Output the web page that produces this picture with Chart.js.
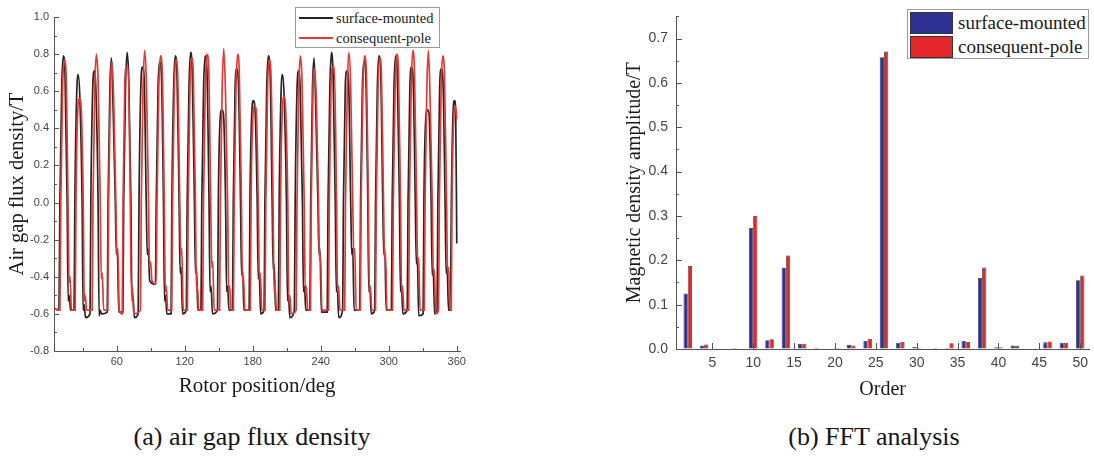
<!DOCTYPE html>
<html>
<head>
<meta charset="utf-8">
<script src="https://cdn.jsdelivr.net/npm/chart.js@4.4.1/dist/chart.umd.min.js"></script>
<style>
  html, body { margin: 0; padding: 0; background: #fff; }
  body { width: 1094px; height: 462px; position: relative; overflow: hidden; font-family: "Liberation Serif", serif; color: #1a1a1a; }
  .abs { position: absolute; }
  .cap { position: absolute; font-family: "Liberation Serif", serif; font-size: 26px; line-height: 30px; text-align: center; color: #151515; }
  .lg { position: absolute; border: 1px solid #9a9a9a; background: #fff; box-sizing: border-box; }
  .lg .row { position: absolute; left: 0; white-space: nowrap; font-family: "Liberation Serif", serif; color: #1a1a1a; }
</style>
</head>
<body>
<div class="abs" style="left:0;top:0;width:470px;height:400px"><canvas id="flux" width="470" height="400"></canvas></div>
<div class="abs" style="left:540px;top:0;width:554px;height:410px"><canvas id="fft" width="554" height="410"></canvas></div>

<div class="lg" style="left:295px;top:7px;width:145px;height:41px">
  <div class="abs" style="left:3px;top:9px;width:34px;height:2px;background:#262626"></div>
  <div class="row" style="left:40px;top:1px;font-size:14.5px;line-height:18px">surface-mounted</div>
  <div class="abs" style="left:3px;top:29px;width:34px;height:2px;background:#e53935"></div>
  <div class="row" style="left:40px;top:21px;font-size:14.5px;line-height:18px">consequent-pole</div>
</div>

<div class="lg" style="left:907px;top:9px;width:182px;height:50px">
  <div class="abs" style="left:2px;top:2px;width:43px;height:22px;background:#2e3192;border:1px solid #333;box-sizing:border-box"></div>
  <div class="row" style="left:50px;top:1px;font-size:19px;line-height:24px">surface-mounted</div>
  <div class="abs" style="left:2px;top:26px;width:43px;height:22px;background:#e5262a;border:1px solid #333;box-sizing:border-box"></div>
  <div class="row" style="left:50px;top:25px;font-size:19px;line-height:24px">consequent-pole</div>
</div>

<div class="cap" style="left:52px;top:422px;width:400px">(a) air gap flux density</div>
<div class="cap" style="left:674px;top:422px;width:400px">(b) FFT analysis</div>

<script>
// ---------- (a) air gap flux density: [rotor position deg, flux density T] ----------
const surfaceMounted = [
  [4.6,-0.57],[9.0,-0.58],
  [9.8,0],[11.4,0.62],[12.8,0.79],[14.3,0.70],[16.2,0],[17.1,-0.53],[18.0,-0.50],[19.2,-0.58],[22.3,-0.58],
  [23.0,0],[24.6,0.58],[26.0,0.69],[27.5,0.55],[29.4,0],[30.3,-0.58],[31.2,-0.55],[32.4,-0.62],[36.4,-0.60],
  [37.1,0],[38.7,0.60],[40.1,0.71],[41.6,0.60],[43.5,0],[44.4,-0.61],[45.3,-0.58],[46.5,-0.60],[51.6,-0.59],
  [52.3,0],[53.9,0.62],[55.3,0.78],[56.8,0.50],[58.7,0],[59.6,-0.28],[60.5,-0.25],[61.7,-0.59],[65.4,-0.59],
  [66.1,0],[67.7,0.62],[69.1,0.81],[70.6,0.66],[72.5,0],[73.4,-0.53],[74.3,-0.50],[75.5,-0.62],[78.9,-0.60],
  [79.6,0],[81.2,0.62],[82.6,0.73],[84.1,0.68],[86.0,0],[86.9,-0.28],[87.8,-0.25],[89.0,-0.42],[94.1,-0.44],
  [94.8,0],[96.4,0.62],[97.8,0.76],[99.3,0.70],[101.2,0],[102.1,-0.53],[103.0,-0.50],[104.2,-0.60],[107.9,-0.60],
  [108.6,0],[110.2,0.62],[111.6,0.79],[113.1,0.70],[115.0,0],[115.9,-0.38],[116.8,-0.35],[118.0,-0.60],[121.4,-0.58],
  [122.1,0],[123.7,0.62],[125.1,0.81],[126.6,0.70],[128.5,0],[129.4,-0.38],[130.3,-0.35],[131.5,-0.58],[134.3,-0.58],
  [135.0,0],[136.6,0.62],[138.0,0.79],[139.5,0.72],[141.4,0],[142.3,-0.48],[143.2,-0.45],[144.4,-0.60],[148.9,-0.58],
  [149.6,0],[151.2,0.45],[152.6,0.50],[154.1,0.48],[156.0,0],[156.9,-0.48],[157.8,-0.45],[159.0,-0.58],[162.1,-0.58],
  [162.8,0],[164.4,0.62],[165.8,0.72],[167.3,0.65],[169.2,0],[170.1,-0.39],[171.0,-0.36],[172.2,-0.58],[176.8,-0.58],
  [177.5,0],[179.1,0.48],[180.5,0.55],[182.0,0.50],[183.9,0],[184.8,-0.41],[185.7,-0.38],[186.9,-0.60],[190.0,-0.58],
  [190.7,0],[192.3,0.62],[193.7,0.79],[195.2,0.72],[197.1,0],[198.0,-0.36],[198.9,-0.33],[200.1,-0.58],[202.6,-0.58],
  [203.3,0],[204.9,0.58],[206.3,0.69],[207.8,0.55],[209.7,0],[210.6,-0.53],[211.5,-0.50],[212.7,-0.62],[216.7,-0.58],
  [217.4,0],[219.0,0.60],[220.4,0.71],[221.9,0.60],[223.8,0],[224.7,-0.48],[225.6,-0.45],[226.8,-0.58],[230.4,-0.58],
  [231.1,0],[232.7,0.62],[234.1,0.78],[235.6,0.50],[237.5,0],[238.4,-0.28],[239.3,-0.25],[240.5,-0.59],[245.7,-0.59],
  [246.4,0],[248.0,0.62],[249.4,0.81],[250.9,0.68],[252.8,0],[253.7,-0.48],[254.6,-0.45],[255.8,-0.62],[259.3,-0.58],
  [260.0,0],[261.6,0.62],[263.0,0.71],[264.5,0.66],[266.4,0],[267.3,-0.28],[268.2,-0.25],[269.4,-0.58],[274.4,-0.58],
  [275.1,0],[276.7,0.62],[278.1,0.76],[279.6,0.70],[281.5,0],[282.4,-0.48],[283.3,-0.45],[284.5,-0.60],[287.6,-0.58],
  [288.3,0],[289.9,0.62],[291.3,0.79],[292.8,0.72],[294.7,0],[295.6,-0.28],[296.5,-0.25],[297.7,-0.58],[302.3,-0.58],
  [303.0,0],[304.6,0.62],[306.0,0.79],[307.5,0.70],[309.4,0],[310.3,-0.48],[311.2,-0.45],[312.4,-0.60],[316.3,-0.58],
  [317.0,0],[318.6,0.62],[320.0,0.73],[321.5,0.66],[323.4,0],[324.3,-0.33],[325.2,-0.30],[326.4,-0.61],[330.3,-0.60],
  [331.0,0],[332.6,0.45],[334.0,0.50],[335.5,0.48],[337.4,0],[338.3,-0.39],[339.2,-0.36],[340.4,-0.60],[342.6,-0.58],
  [343.3,0],[344.9,0.62],[346.3,0.72],[347.8,0.66],[349.7,0],[350.6,-0.38],[351.5,-0.35],[352.7,-0.58],[354.3,-0.58],
  [355.2,0],[356.7,0.48],[358.0,0.55],[359.0,0.50],[360.0,-0.22]
];
const consequentPole = [
  [4.6,-0.57],[9.8,-0.58],
  [10.6,0],[12.2,0.62],[13.6,0.77],[15.1,0.72],[17.0,0],[17.9,-0.43],[18.8,-0.40],[20.0,-0.58],[23.3,-0.58],
  [24.0,0],[25.6,0.50],[27.0,0.56],[28.5,0.52],[30.4,0],[31.3,-0.53],[32.2,-0.50],[33.4,-0.58],[38.3,-0.58],
  [39.0,0],[40.6,0.62],[42.0,0.80],[43.5,0.66],[45.4,0],[46.3,-0.41],[47.2,-0.38],[48.4,-0.58],[52.1,-0.58],
  [52.8,0],[54.4,0.62],[55.8,0.76],[57.3,0.55],[59.2,0],[60.1,-0.28],[61.0,-0.25],[62.2,-0.58],[64.8,-0.60],
  [65.5,0],[67.1,0.65],[68.5,0.73],[70.0,0.73],[71.9,0],[72.8,-0.48],[73.7,-0.45],[74.9,-0.60],[80.9,-0.58],
  [81.6,0],[83.2,0.62],[84.6,0.82],[86.1,0.65],[88.0,0],[88.9,-0.35],[89.8,-0.32],[91.0,-0.42],[94.8,-0.44],
  [95.5,0],[97.1,0.62],[98.5,0.79],[100.0,0.73],[101.9,0],[102.8,-0.48],[103.7,-0.45],[104.9,-0.58],[108.5,-0.58],
  [109.2,0],[110.8,0.62],[112.2,0.77],[113.7,0.70],[115.6,0],[116.5,-0.28],[117.4,-0.25],[118.6,-0.58],[122.3,-0.58],
  [123.0,0],[124.6,0.62],[126.0,0.78],[127.5,0.70],[129.4,0],[130.3,-0.48],[131.2,-0.45],[132.4,-0.58],[135.8,-0.58],
  [136.5,0],[138.1,0.62],[139.5,0.80],[141.0,0.74],[142.9,0],[143.8,-0.35],[144.7,-0.32],[145.9,-0.58],[150.7,-0.58],
  [151.4,0],[153.0,0.62],[154.4,0.83],[155.9,0.60],[157.8,0],[158.7,-0.48],[159.6,-0.45],[160.8,-0.58],[162.9,-0.58],
  [163.6,0],[165.2,0.62],[166.6,0.80],[168.1,0.70],[170.0,0],[170.9,-0.43],[171.8,-0.40],[173.0,-0.58],[177.8,-0.58],
  [178.5,0],[180.1,0.46],[181.5,0.52],[183.0,0.50],[184.9,0],[185.8,-0.41],[186.7,-0.38],[187.9,-0.58],[190.8,-0.58],
  [191.5,0],[193.1,0.62],[194.5,0.77],[196.0,0.70],[197.9,0],[198.8,-0.48],[199.7,-0.45],[200.9,-0.58],[203.8,-0.58],
  [204.5,0],[206.1,0.50],[207.5,0.57],[209.0,0.50],[210.9,0],[211.8,-0.53],[212.7,-0.50],[213.9,-0.60],[218.3,-0.58],
  [219.0,0],[220.6,0.62],[222.0,0.79],[223.5,0.65],[225.4,0],[226.3,-0.48],[227.2,-0.45],[228.4,-0.58],[230.9,-0.58],
  [231.6,0],[233.2,0.62],[234.6,0.72],[236.1,0.55],[238.0,0],[238.9,-0.31],[239.8,-0.28],[241.0,-0.58],[246.8,-0.58],
  [247.5,0],[249.1,0.65],[250.5,0.73],[252.0,0.73],[253.9,0],[254.8,-0.48],[255.7,-0.45],[256.9,-0.58],[261.1,-0.58],
  [261.8,0],[263.4,0.62],[264.8,0.81],[266.3,0.65],[268.2,0],[269.1,-0.28],[270.0,-0.25],[271.2,-0.58],[274.9,-0.58],
  [275.6,0],[277.2,0.62],[278.6,0.79],[280.1,0.72],[282.0,0],[282.9,-0.48],[283.8,-0.45],[285.0,-0.58],[288.3,-0.58],
  [289.0,0],[290.6,0.62],[292.0,0.78],[293.5,0.70],[295.4,0],[296.3,-0.31],[297.2,-0.28],[298.4,-0.58],[303.3,-0.58],
  [304.0,0],[305.6,0.62],[307.0,0.80],[308.5,0.72],[310.4,0],[311.3,-0.48],[312.2,-0.45],[313.4,-0.58],[317.5,-0.58],
  [318.2,0],[319.8,0.62],[321.2,0.82],[322.7,0.70],[324.6,0],[325.5,-0.33],[326.4,-0.30],[327.6,-0.58],[331.3,-0.58],
  [332.0,0],[333.6,0.62],[335.0,0.82],[336.5,0.55],[338.4,0],[339.3,-0.39],[340.2,-0.36],[341.4,-0.60],[343.9,-0.58],
  [344.6,0],[346.2,0.62],[347.6,0.79],[349.1,0.70],[351.0,0],[351.9,-0.38],[352.8,-0.35],[354.0,-0.58],[355.1,-0.58],
  [355.8,0],[357.4,0.46],[358.8,0.52],[360.0,0.45]
];
const degTicks = [60, 120, 180, 240, 300, 360];
const fluxTicks = [-0.8, -0.6, -0.4, -0.2, 0.0, 0.2, 0.4, 0.6, 0.8, 1.0];

// ---------- (b) FFT analysis ----------
const orders = [2,4,6,8,10,12,14,16,18,20,22,24,26,28,30,32,34,36,38,40,42,44,46,48,50];
const fftSurface = [0.125,0.008,0.001,0.002,0.273,0.020,0.183,0.012,0.003,0.001,0.009,0.018,0.658,0.014,0.005,0.001,0.002,0.018,0.160,0.004,0.008,0.001,0.015,0.014,0.155];
const fftConsequent = [0.187,0.010,0.001,0.001,0.300,0.022,0.211,0.012,0.001,0.002,0.008,0.023,0.671,0.016,0.002,0.002,0.013,0.016,0.184,0.004,0.007,0.001,0.017,0.014,0.166];
const ampTicks = [0, 0.1, 0.2, 0.3, 0.4, 0.5, 0.6, 0.7];
const orderTicks = [5, 10, 15, 20, 25, 30, 35, 40, 45, 50];

const SANS = '"Liberation Sans", Arial, sans-serif';
const SERIF = '"Liberation Serif", "Times New Roman", serif';

// inward tick marks (major + optional minor) drawn on the axis lines
const innerTicks = {
  id: 'innerTicks',
  afterDatasetsDraw(chart, args, opts) {
    const ctx = chart.ctx, area = chart.chartArea;
    ctx.save();
    ctx.strokeStyle = opts.color || '#555';
    ctx.lineWidth = 1;
    for (const id of ['x', 'y']) {
      const s = chart.scales[id], cfg = opts[id];
      if (!cfg) continue;
      const vals = s.ticks.map(t => t.value);
      const marks = vals.map(v => [v, cfg.major]);
      if (cfg.minor) {
        const step = vals[1] - vals[0];
        const mids = [vals[0] - step / 2];
        for (let i = 0; i < vals.length; i++) mids.push(vals[i] + step / 2);
        mids.forEach(v => { if (v >= s.min - 1e-9 && v <= s.max + 1e-9) marks.push([v, cfg.minor]); });
      }
      ctx.beginPath();
      for (const [v, len] of marks) {
        const p = Math.round(s.getPixelForValue(v)) + 0.5;
        if (id === 'x') { ctx.moveTo(p, area.bottom); ctx.lineTo(p, area.bottom - len); }
        else { ctx.moveTo(area.left, p); ctx.lineTo(area.left + len, p); }
      }
      ctx.stroke();
    }
    ctx.restore();
  }
};

Chart.defaults.animation = false;
Chart.defaults.font.family = SANS;

new Chart(document.getElementById('flux'), {
  type: 'line',
  data: {
    datasets: [
      { label: 'surface-mounted', data: surfaceMounted.map(p => ({x: p[0], y: p[1]})),
        borderColor: '#262626', borderWidth: 1.7, pointRadius: 0, cubicInterpolationMode: 'monotone', order: 1 },
      { label: 'consequent-pole', data: consequentPole.map(p => ({x: p[0], y: p[1]})),
        borderColor: '#e53935', borderWidth: 1.7, pointRadius: 0, cubicInterpolationMode: 'monotone', order: 0 }
    ]
  },
  options: {
    responsive: false, devicePixelRatio: 1,
    layout: { padding: { left: 0, top: 17, right: 6, bottom: 0 } },
    plugins: { legend: { display: false }, tooltip: { enabled: false },
      innerTicks: { color: '#555', x: { major: 5, minor: 3 }, y: { major: 5, minor: 3 } } },
    scales: {
      x: { type: 'linear', min: 4.6, max: 363,
        afterBuildTicks: s => { s.ticks = degTicks.map(v => ({value: v})); },
        afterFit: s => { s.height = 49; },
        grid: { display: true, drawOnChartArea: false, drawTicks: false },
        border: { display: true, color: '#555', width: 1 },
        ticks: { padding: 4, color: '#444', font: { size: 11, family: SANS }, maxRotation: 0, autoSkip: false },
        title: { display: true, text: 'Rotor position/deg', color: '#1a1a1a', font: { size: 21, family: SERIF }, padding: { top: 0, bottom: 1 } } },
      y: { type: 'linear', min: -0.8, max: 1.0,
        afterBuildTicks: s => { s.ticks = fluxTicks.map(v => ({value: v})); },
        afterFit: s => { s.width = 54; },
        grid: { display: true, drawOnChartArea: false, drawTicks: false },
        border: { display: true, color: '#555', width: 1 },
        ticks: { padding: 5, color: '#444', font: { size: 11, family: SANS }, callback: v => v.toFixed(1) },
        title: { display: true, text: 'Air gap flux density/T', color: '#1a1a1a', font: { size: 20.5, family: SERIF }, padding: { top: 5, bottom: 0 } } }
    }
  },
  plugins: [innerTicks]
});

new Chart(document.getElementById('fft'), {
  type: 'bar',
  data: {
    datasets: [
      { label: 'surface-mounted', data: orders.map((o, i) => ({x: o, y: fftSurface[i]})),
        backgroundColor: '#2e3192', borderColor: 'rgba(25,25,25,0.85)', borderWidth: 0.8,
        categoryPercentage: 0.52, barPercentage: 1.0 },
      { label: 'consequent-pole', data: orders.map((o, i) => ({x: o, y: fftConsequent[i]})),
        backgroundColor: '#e5262a', borderColor: 'rgba(25,25,25,0.85)', borderWidth: 0.8,
        categoryPercentage: 0.52, barPercentage: 1.0 }
    ]
  },
  options: {
    responsive: false, devicePixelRatio: 1,
    layout: { padding: { left: 0, top: 13, right: 0, bottom: 0 } },
    plugins: { legend: { display: false }, tooltip: { enabled: false },
      innerTicks: { color: '#555', x: { major: 6 }, y: { major: 6, minor: 3 } } },
    scales: {
      x: { type: 'linear', offset: false, min: 0.56, max: 51.1,
        afterBuildTicks: s => { s.ticks = orderTicks.map(v => ({value: v})); },
        afterFit: s => { s.height = 61; },
        grid: { display: true, drawOnChartArea: false, drawTicks: false, offset: false },
        border: { display: true, color: '#555', width: 1 },
        ticks: { padding: 6, color: '#444', font: { size: 14, family: SANS }, maxRotation: 0, autoSkip: false },
        title: { display: true, text: 'Order', color: '#1a1a1a', font: { size: 20, family: SERIF }, padding: { top: 0, bottom: 8 } } },
      y: { type: 'linear', min: 0, max: 0.75,
        afterBuildTicks: s => { s.ticks = ampTicks.map(v => ({value: v})); },
        afterFit: s => { s.width = 136; },
        grid: { display: true, drawOnChartArea: false, drawTicks: false },
        border: { display: true, color: '#555', width: 1 },
        ticks: { padding: 8, color: '#444', font: { size: 14, family: SANS }, callback: v => v.toFixed(1) },
        title: { display: true, text: 'Magnetic density amplitude/T', color: '#1a1a1a', font: { size: 20, family: SERIF }, padding: { top: 83, bottom: 0 } } }
    }
  },
  plugins: [innerTicks]
});
</script>
</body>
</html>
